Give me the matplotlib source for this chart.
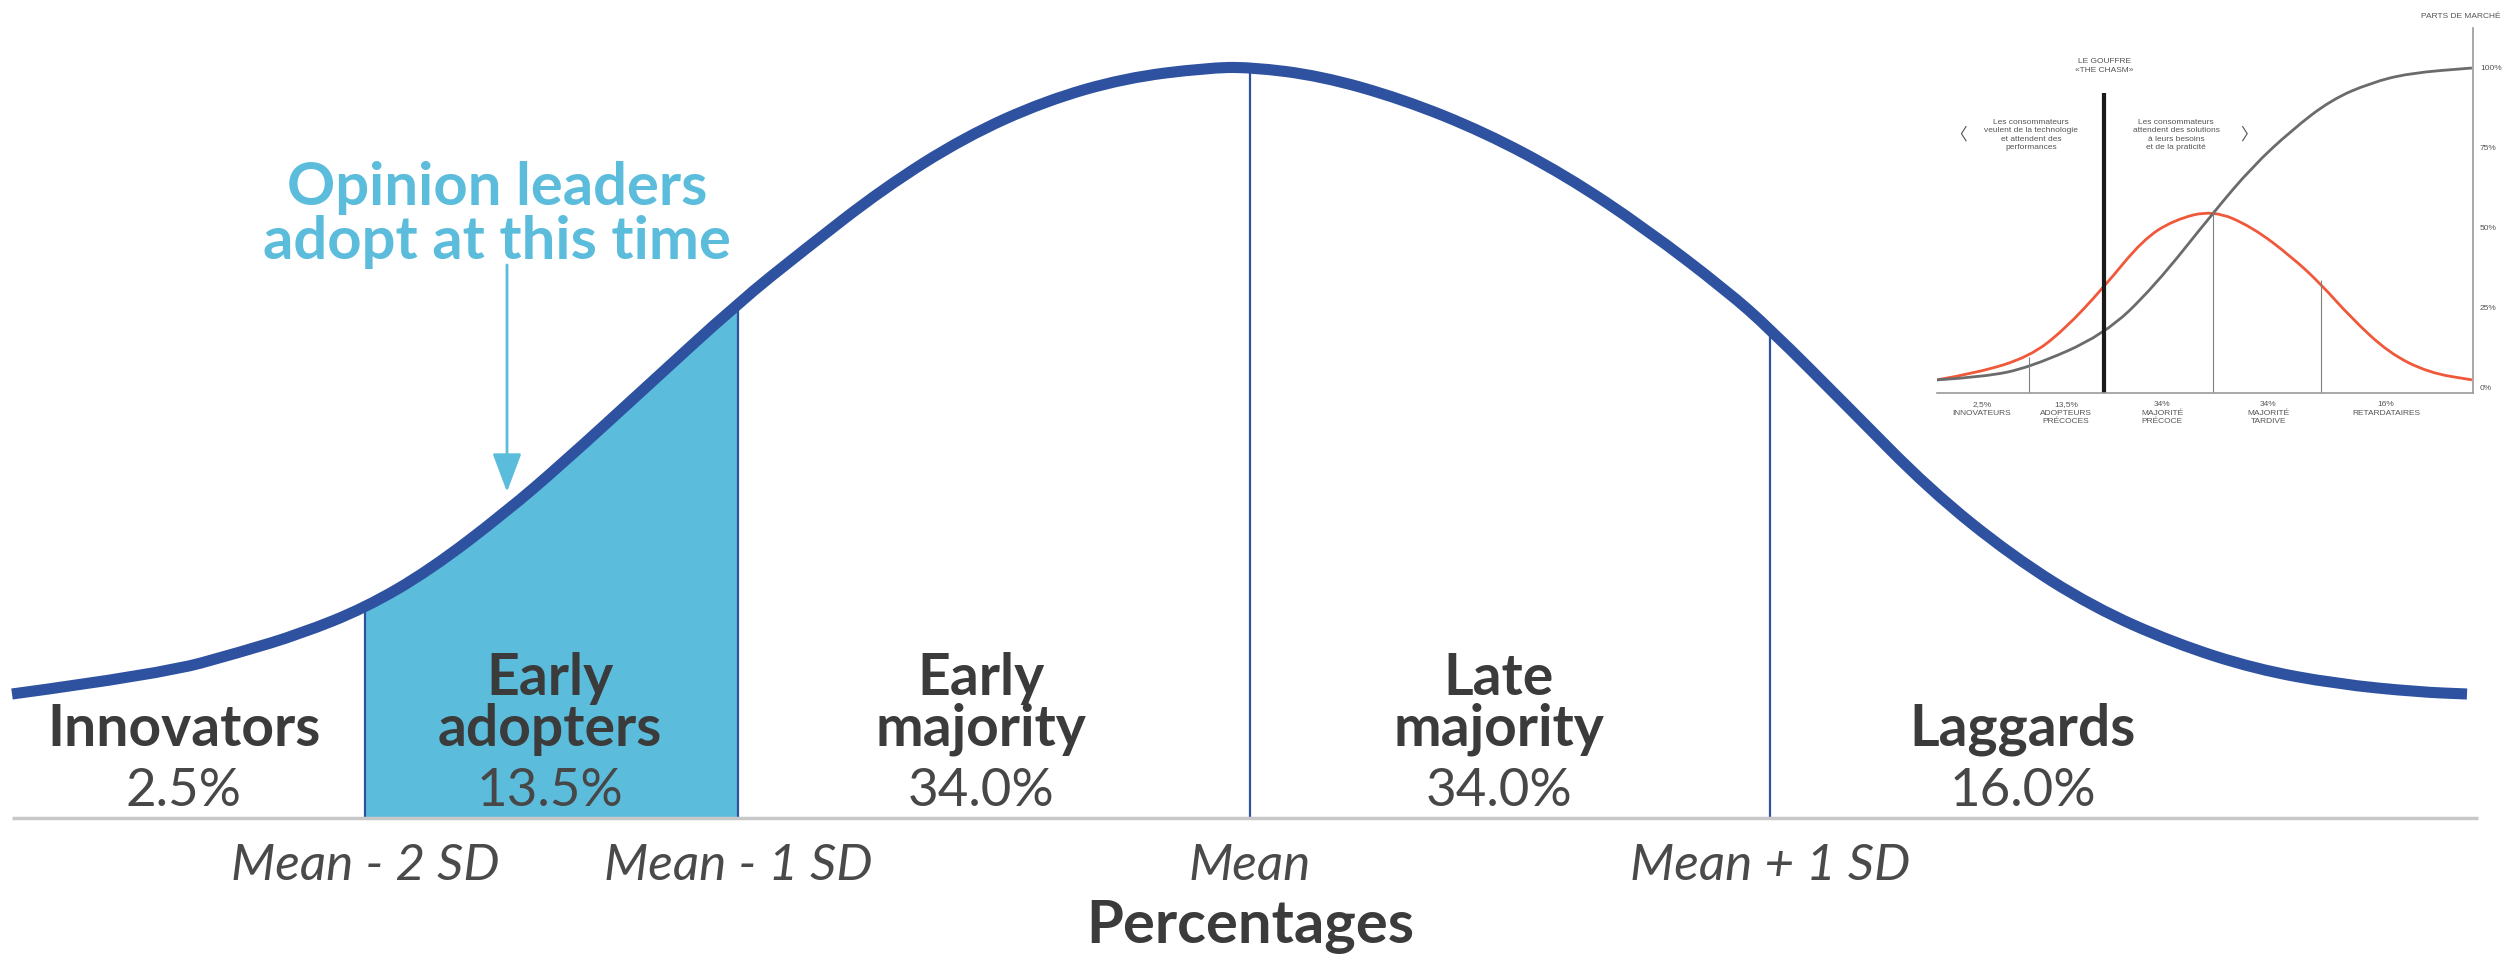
import numpy as np
import matplotlib.pyplot as plt
from matplotlib.path import Path
from matplotlib.patches import PathPatch

# --- main bell curve (position along the axis, height above baseline) ---
curve_x = [12, 161, 241, 300, 365, 430, 506, 563, 643, 738, 804, 884, 965,
           1045, 1125, 1206, 1250, 1321, 1402, 1484, 1565, 1646, 1727, 1770,
           1849, 1930, 2012, 2093, 2174, 2255, 2337, 2418, 2467]
curve_h = [124, 144, 166, 184, 210, 248, 306, 355, 428, 515, 568, 630, 681,
           717, 740, 750, 751, 742, 719, 686, 643, 589, 527, 489,
           410, 328, 262, 211, 175, 149, 134, 126, 124]

# boundaries between the categories
bound_x = [365, 738, 1250, 1770]
bound_h = [210, 515, 751, 489]
bound_labels = ["Mean - 2 SD", "Mean - 1 SD", "Mean", "Mean + 1 SD"]

categories = ["Innovators", "Early\nadopters", "Early\nmajority", "Late\nmajority", "Laggards"]
shares = ["2.5%", "13.5%", "34.0%", "34.0%", "16.0%"]
cat_x = [184, 550, 981, 1499, 2023]

# --- small inset (Moore's chasm) ---
s_x = [0, 8.6, 17.2, 31.2, 40.5, 51.5, 58.8, 66.2, 73.5, 80.8, 88.1, 99.8]
s_y = [2.5, 3.4, 6.3, 16.6, 31.6, 54.7, 69.1, 80.6, 90, 95.3, 98.4, 100]
b_x = [0, 7.6, 17.2, 23.7, 31.2, 38.4, 44.2, 51.5, 58.8, 66.2, 71.6, 77.1, 84.3, 91.8, 99.8]
b_y = [2.5, 4.7, 9.7, 18.1, 31.6, 46.3, 52.5, 55.6, 50.3, 40.9, 32.5, 22.2, 10.9, 4.7, 2.5]
in_lines_x = [17.2, 51.5, 71.6]
in_lines_y = [9.7, 55.6, 33.8]
chasm_x = 31.2
in_labels = ["2,5%\nINNOVATEURS", "13,5%\nADOPTEURS\nPRÉCOCES", "34%\nMAJORITÉ\nPRÉCOCE",
             "34%\nMAJORITÉ\nTARDIVE", "16%\nRETARDATAIRES"]
in_labels_x = [8.4, 24.1, 42.0, 61.8, 83.8]

blue = "#2e52a0"
light = "#5bbcdc"
dark = "#3b3b3b"


def smooth_path(xs, ys, start=None, end=None):
    """Chemin lissé (courbes quadratiques) passant par les milieux des points lus."""
    verts = [(xs[0], ys[0])]
    codes = [Path.MOVETO]
    if start is not None:
        verts = [start, (xs[0], ys[0])]
        codes = [Path.MOVETO, Path.LINETO]
    for i in range(1, len(xs) - 1):
        verts += [(xs[i], ys[i]), ((xs[i] + xs[i + 1]) / 2, (ys[i] + ys[i + 1]) / 2)]
        codes += [Path.CURVE3, Path.CURVE3]
    verts.append((xs[-1], ys[-1]))
    codes.append(Path.LINETO)
    if end is not None:
        verts += [end, verts[0]]
        codes += [Path.LINETO, Path.CLOSEPOLY]
    return Path(verts, codes)


fig = plt.figure(figsize=(25.14, 9.57), dpi=100)
ax = fig.add_axes([0, 0, 1, 1])
ax.set_xlim(0, 2514)
ax.set_ylim(-139, 818)
ax.axis("off")

i0, i1 = curve_x.index(bound_x[0]), curve_x.index(bound_x[1])
fill = smooth_path(curve_x[i0:i1 + 1], curve_h[i0:i1 + 1],
                   start=(bound_x[0], 0), end=(bound_x[1], 0))
ax.add_patch(PathPatch(fill, facecolor=light, lw=0))
ax.vlines(bound_x, 0, bound_h, color=blue, lw=1.6)
ax.add_patch(PathPatch(smooth_path(curve_x, curve_h), facecolor="none",
                       edgecolor=blue, lw=8, capstyle="butt"))
ax.hlines(0, 12, 2478, color="#c8c8c8", lw=2.5)

for name, pct, x in zip(categories, shares, cat_x):
    ax.text(x, 72, name, ha="center", va="baseline", fontsize=41, family="Lato",
            fontweight="bold", color=dark, linespacing=0.95)
    ax.text(x, 12, pct, ha="center", va="baseline", fontsize=38, family="Lato",
            color="#474747")

for x, lab in zip(bound_x, bound_labels):
    ax.text(x, -48, lab, ha="center", va="center", fontsize=37, family="Lato",
            style="italic", color="#4a4a4a")
ax.text(1250, -109, "Percentages", ha="center", va="center", fontsize=43,
        family="Lato", fontweight="bold", color=dark)

ax.text(497, 603, "Opinion leaders\nadopt at this time", ha="center", va="center",
        fontsize=43, family="Lato", fontweight="bold", color=light, linespacing=1.0)
ax.annotate("", xy=(507, 326), xytext=(507, 553),
            arrowprops=dict(arrowstyle="-|>,head_length=0.8,head_width=0.3",
                            color=light, lw=2, mutation_scale=30, shrinkA=0, shrinkB=0))

# inset
ins = fig.add_axes([1937 / 2514, 1 - 393 / 957, 536 / 2514, 365 / 957])
ins.set_xlim(0, 100)
ins.set_ylim(-1.6, 112.5)
ins.patch.set_alpha(0)
for side in ["left", "top"]:
    ins.spines[side].set_visible(False)
ins.spines["bottom"].set_color("#9a9a9a")
ins.spines["right"].set_color("#9a9a9a")
ins.spines["bottom"].set_linewidth(1.2)
ins.spines["right"].set_linewidth(1.2)
ins.set_xticks([])
ins.yaxis.tick_right()
ins.set_yticks([0, 25, 50, 75, 100])
ins.set_yticklabels(["0%", "25%", "50%", "75%", "100%"], fontsize=6, color="#555555",
                    family="Liberation Sans")
ins.tick_params(axis="y", length=0, pad=5)

ins.add_patch(PathPatch(smooth_path(b_x, b_y), facecolor="none", edgecolor="#f0583a", lw=2))
ins.add_patch(PathPatch(smooth_path(s_x, s_y), facecolor="none", edgecolor="#6b6b6b", lw=2))
ins.vlines(in_lines_x, -1.6, in_lines_y, color="#808080", lw=0.8)
ins.vlines(chasm_x, -1.6, 92.2, color="#1a1a1a", lw=3)

fs = dict(fontsize=6, family="Liberation Sans", color="#555555", ha="center")
ins.text(chasm_x, 100.6, "LE GOUFFRE\n«THE CHASM»", va="center", linespacing=1.3, **fs)
ins.text(17.5, 79, "Les consommateurs\nveulent de la technologie\net attendent des\nperformances",
         va="center", linespacing=1.3, **fs)
ins.text(44.6, 79, "Les consommateurs\nattendent des solutions\nà leurs besoins\net de la praticité",
         va="center", linespacing=1.3, **fs)
ins.text(4.1, 79, "〈", va="center", fontsize=12, color="#555555", ha="center",
         family=["Noto Sans CJK SC", "DejaVu Sans"])
ins.text(58.1, 79, "〉", va="center", fontsize=12, color="#555555", ha="center",
         family=["Noto Sans CJK SC", "DejaVu Sans"])
for lab, x in zip(in_labels, in_labels_x):
    ins.text(x, -4.2, lab, va="top", linespacing=1.25, **fs)
ins.text(90.3, 116, "PARTS DE MARCHÉ", ha="left", va="center", fontsize=6,
         family="Liberation Sans", color="#555555", clip_on=False)

fig.savefig("out.png", dpi=100)
